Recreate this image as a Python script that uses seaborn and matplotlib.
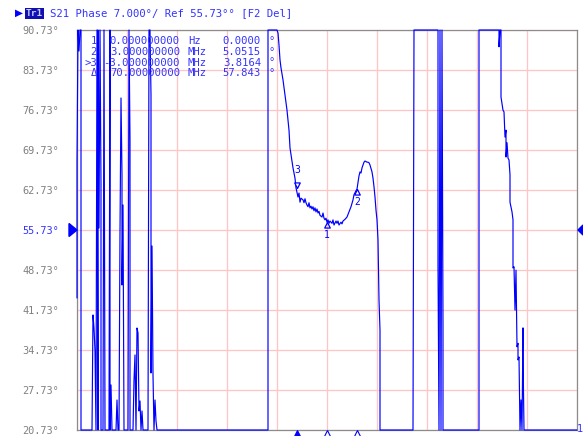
import matplotlib
matplotlib.use("Agg")
import matplotlib.pyplot as plt
import seaborn as sns
import numpy as np
import pandas as pd
from matplotlib.path import Path
from matplotlib.transforms import blended_transform_factory

# ---------------- data ----------------
# stimulus offset from centre (MHz)
freq_mhz = [
    -25.0, -25.0, -24.9, -24.8, -24.7, -24.6, -24.6, -23.5, -23.4, -23.3, -23.2, -23.1,
    -23.0, -22.9, -22.9, -22.8, -22.7, -22.6, -22.6, -22.4, -22.3, -22.2, -22.2, -21.8,
    -21.7, -21.7, -21.6, -21.5, -21.1, -21.0, -20.9, -20.8, -20.7, -20.6, -20.5, -20.5,
    -20.4, -20.3, -19.9, -19.8, -19.7, -19.7, -19.4, -19.3, -19.2, -19.1, -19.0, -18.9,
    -18.8, -18.7, -18.6, -18.5, -18.4, -17.9, -17.8, -17.7, -17.6, -17.6, -17.5, -17.4,
    -17.3, -17.2, -17.1, -17.0, -5.9, -5.9, -5.0,
    -4.9, -4.8, -4.7, -4.6, -4.4, -4.2, -4.0, -3.9, -3.8, -3.7, -3.6, -3.4, -3.2, -3.1,
    -2.9, -2.8, -2.7, -2.6, -2.4, -2.3, -2.2, -2.1, -2.0, -1.9, -1.8, -1.7, -1.6, -1.5,
    -1.4, -1.3, -1.2, -1.1, -1.0, -0.9, -0.8, -0.7, -0.5, -0.4, -0.3, -0.2, -0.1, 0.0,
    0.1, 0.2, 0.3, 0.5, 0.6, 0.7, 0.9, 1.0, 1.1, 1.2, 1.4, 1.5, 1.6, 1.8, 2.0, 2.2, 2.4,
    2.6, 2.7, 2.9, 3.0, 3.1, 3.2, 3.3, 3.4, 3.5, 3.6, 3.7, 3.8, 4.0, 4.1, 4.2, 4.3, 4.5,
    4.6, 4.7, 4.8, 4.9, 5.0, 5.1, 5.2, 5.3, 5.3,
    8.6, 8.7, 11.1, 11.1, 11.2, 11.3, 11.4, 11.5, 11.6, 11.6, 15.2, 15.2, 17.2, 17.2,
    17.3, 17.4, 17.4, 17.6, 17.7, 17.8, 17.9, 17.9, 18.0, 18.1, 18.2, 18.3, 18.3, 18.5,
    18.6, 18.6, 18.7, 18.8, 18.9, 19.0, 19.1, 19.1, 19.2, 19.3, 19.4, 19.5, 19.6, 19.6,
    19.7, 25.0,
]
# S21 phase (deg), clipped to the display range by the analyzer
phase_deg = [
    43.83, 67.81, 90.73, 87.06, 90.73, 90.73, 20.73, 20.73, 40.86, 38.58, 34.56, 20.73,
    90.73, 20.73, 90.73, 56.08, 90.73, 63.61, 20.73, 20.73, 90.73, 26.33, 20.73, 20.73,
    90.73, 20.73, 28.61, 20.73, 20.73, 25.98, 20.73, 20.73, 55.56, 78.83, 65.36, 46.11,
    60.11, 20.73, 20.73, 90.73, 71.48, 20.73, 20.73, 29.48, 33.86, 20.73, 38.58, 37.71,
    24.06, 25.81, 20.73, 24.06, 20.73, 20.73, 90.73, 90.73, 79.36, 30.71, 52.93, 30.36,
    20.73, 25.98, 22.31, 20.73, 20.73, 90.73, 90.73,
    90.2, 88.1, 85.5, 84.1, 82.0, 79.4, 76.7, 75.0, 73.2, 70.1, 68.9, 66.6, 64.8, 63.1,
    61.5, 62.2, 60.6, 61.3, 61.0, 60.5, 61.2, 60.5, 60.1, 59.8, 60.5, 59.6, 59.9, 59.4,
    59.8, 59.1, 59.6, 58.9, 59.4, 58.7, 59.0, 58.3, 58.0, 58.7, 57.8, 57.5, 57.8, 57.1,
    57.5, 56.9, 57.3, 56.9, 57.5, 56.6, 57.3, 56.9, 57.3, 56.6, 57.1, 56.8, 57.3, 57.6,
    58.0, 58.9, 59.8, 61.0, 61.9, 62.6, 62.9, 64.0, 65.2, 65.9, 65.7, 66.6, 67.1, 67.6,
    67.8, 67.6, 67.6, 67.5, 67.1, 65.9, 64.8, 63.3, 61.5, 59.2, 57.5, 54.0, 43.5, 38.2,
    20.73,
    20.73, 90.73, 90.73, 49.6, 20.73, 90.73, 20.73, 90.73, 38.6, 20.73, 20.73, 90.73,
    90.73, 87.8, 90.73, 90.73, 79.0, 76.7, 76.4, 72.0, 73.2, 68.5, 71.0, 68.3, 68.0,
    65.4, 60.6, 58.9, 57.5, 49.1, 49.3, 41.7, 48.7, 35.3, 35.9, 33.0, 33.5, 20.73, 26.0,
    20.73, 38.6, 34.2, 20.73, 20.73,
]

ref_value = 55.73
scale_per_div = 7.0
y_ticks = [20.73, 27.73, 34.73, 41.73, 48.73, 55.73, 62.73, 69.73, 76.73, 83.73, 90.73]
x_grid = [-25, -20, -15, -10, -5, 0, 5, 10, 15, 20, 25]

marker_ids = ["1", "2", "3"]
marker_freq = [0.0, 3.0, -3.0]
marker_phase = [57.1, 62.9, 63.1]

table_ids = ["1", "2", ">3", "\u0394"]
table_freq = ["0.000000000", "3.000000000", "-3.000000000", "70.00000000"]
table_unit = ["Hz", "MHz", "MHz", "MHz"]
table_val = ["0.0000", "5.0515", "3.8164", "57.843"]

title_text = "S21 Phase 7.000\u00b0/ Ref 55.73\u00b0\u00b0 [F2 Del]"

# ---------------- style ----------------
sns.set_theme(style="white")
plt.rcParams["font.family"] = ["DejaVu Sans Mono", "DejaVu Sans"]

TRACE = "#0000ff"
TXT = "#3333ff"
GRID = "#ffc4c4"
FRAME = "#8c8c8c"
LBL = "#808080"

W, H = 583, 436
fig = plt.figure(figsize=(W / 100, H / 100), dpi=100)
fig.patch.set_facecolor("white")

def fx(px):
    return px / W

def fy(py):
    return 1 - py / H

ax = fig.add_axes([fx(77), fy(430), 500 / W, 400 / H])
ax.set_facecolor("white")

df = pd.DataFrame({"freq": freq_mhz, "phase": phase_deg})
sns.lineplot(data=df, x="freq", y="phase", sort=False, estimator=None,
             color=TRACE, lw=0.85, ax=ax, zorder=3)
for ln in ax.lines:
    ln.set_clip_on(False)
    ln.set_antialiased(True)

ax.set_xlim(-25, 25)
ax.set_ylim(20.73, 90.73)
ax.set_xticks(x_grid)
ax.set_yticks(y_ticks)
ax.set_xticklabels([])
ax.set_yticklabels([f"{v:.2f}\u00b0" for v in y_ticks])
ax.grid(True, color=GRID, lw=0.9, zorder=0)
ax.set_axisbelow(True)
ax.tick_params(axis="both", length=0)
ax.tick_params(axis="y", pad=13, labelsize=7.4, labelcolor=LBL)
for lab, v in zip(ax.get_yticklabels(), y_ticks):
    if abs(v - ref_value) < 1e-6:
        lab.set_color(TXT)
ax.set_xlabel("")
ax.set_ylabel("")
for s in ax.spines.values():
    s.set_color(FRAME)
    s.set_linewidth(0.9)
    s.set_zorder(2)

# trace markers
tip_up = Path([(0, 0), (-0.5, -1), (0.5, -1), (0, 0)],
              [Path.MOVETO, Path.LINETO, Path.LINETO, Path.CLOSEPOLY])
tip_down = Path([(0, 0), (-0.5, 1), (0.5, 1), (0, 0)],
                [Path.MOVETO, Path.LINETO, Path.LINETO, Path.CLOSEPOLY])
for mid, mf, mp in zip(marker_ids, marker_freq, marker_phase):
    if mid == "3":
        ax.plot([mf], [mp], marker=tip_down, ms=8, mfc="white", mec=TRACE,
                mew=0.9, ls="none", zorder=5, clip_on=False)
        ax.annotate(mid, (mf, mp), xytext=(0, 9), textcoords="offset points",
                    ha="center", va="bottom", color=TRACE, fontsize=7)
    else:
        ax.plot([mf], [mp], marker=tip_up, ms=8, mfc="none", mec=TRACE,
                mew=0.9, ls="none", zorder=5, clip_on=False)
        ax.annotate(mid, (mf, mp), xytext=(0, -5.5), textcoords="offset points",
                    ha="center", va="top", color=TRACE, fontsize=7)

# stimulus markers under the axis
bt = blended_transform_factory(ax.transData, ax.transAxes)
for mid, mf in zip(marker_ids, marker_freq):
    active = mid == "3"
    ax.plot([mf], [-0.013], marker="^", ms=7, mfc=TRACE if active else "white",
            mec=TRACE, mew=0.8, transform=bt, clip_on=False, ls="none", zorder=6)

# reference arrows
ref_y = fy(230)
fig.patches.append(plt.Polygon([[fx(69), fy(223.5)], [fx(69), fy(236.5)], [fx(77), ref_y]],
                               closed=True, color=TRACE, transform=fig.transFigure))
fig.patches.append(plt.Polygon([[fx(583), fy(225)], [fx(583), fy(235)], [fx(578), ref_y]],
                               closed=True, color=TRACE, transform=fig.transFigure))

# title line
fig.text(fx(15), fy(13), "\u25b6", color=TRACE, fontsize=7.5, va="center", ha="left",
         family="DejaVu Sans")
fig.text(fx(26), fy(13.5), "Tr1", color="#c8c8ff", fontsize=6.8, va="center", ha="left",
         fontweight="bold",
         bbox=dict(boxstyle="square,pad=0.12", fc="#1010b0", ec="none"))
fig.text(fx(50), fy(13), title_text, color=TXT, fontsize=7.7, va="center", ha="left")

# marker table
row_y = [41.5, 52, 62.5, 73]
for ry, tid, tf, tu, tv in zip(row_y, table_ids, table_freq, table_unit, table_val):
    fig.text(fx(97), fy(ry), tid, color=TXT, fontsize=7.6, va="center", ha="right", zorder=7)
    fig.text(fx(180), fy(ry), tf, color=TXT, fontsize=7.6, va="center", ha="right", zorder=7)
    fig.text(fx(188), fy(ry), tu, color=TXT, fontsize=7.6, va="center", ha="left", zorder=7)
    fig.text(fx(261), fy(ry), tv, color=TXT, fontsize=7.6, va="center", ha="right", zorder=7)
    fig.text(fx(269), fy(ry), "\u00b0", color=TXT, fontsize=7.6, va="center", ha="left", zorder=7)

# channel number
fig.text(fx(583), fy(429), "1", color=TXT, fontsize=7.4, va="center", ha="right")

fig.savefig("out.png", dpi=100, facecolor="white")
